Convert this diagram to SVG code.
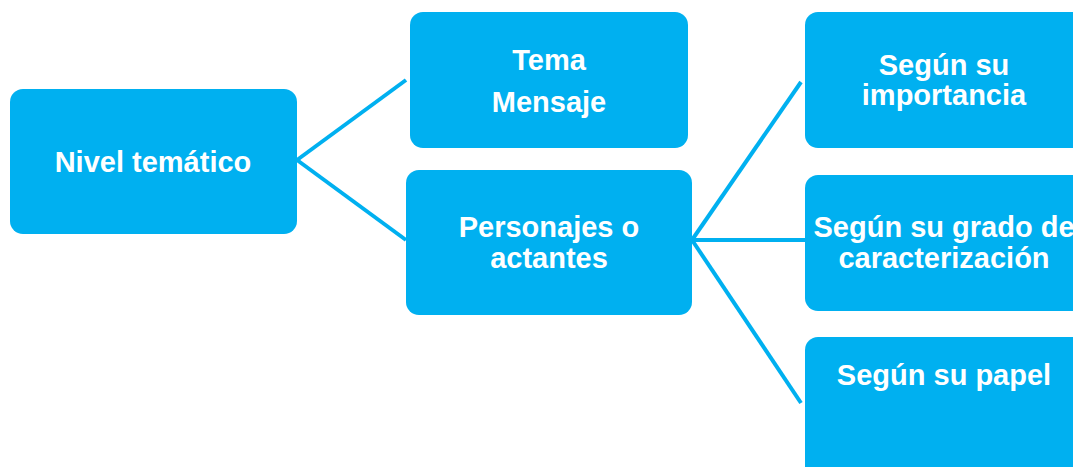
<svg xmlns="http://www.w3.org/2000/svg" width="1073" height="467" viewBox="0 0 1073 467">
<style>
.box{fill:#00B0F0;}
.t{font-family:"Liberation Sans",Arial,sans-serif;font-weight:bold;font-size:29px;fill:#ffffff;text-anchor:middle;}
.c{stroke:#00B0F0;stroke-width:4;fill:none;}
</style>
<rect width="1073" height="467" fill="#ffffff"/>
<g id="connectors">
<line class="c" x1="297" y1="160" x2="406" y2="80"/>
<line class="c" x1="297" y1="160" x2="406" y2="240"/>
<line class="c" x1="692" y1="240" x2="801" y2="82"/>
<line class="c" x1="692" y1="240" x2="805" y2="240"/>
<line class="c" x1="692" y1="240" x2="801" y2="403"/>
</g>
<g id="nivel">
<rect class="box" x="10" y="89" width="287" height="145" rx="13"/>
<text class="t" x="153" y="172">Nivel temático</text>
</g>
<g id="tema">
<rect class="box" x="410" y="12" width="278" height="136" rx="13"/>
<text class="t" x="549" y="70">Tema</text>
<text class="t" x="549" y="112">Mensaje</text>
</g>
<g id="personajes">
<rect class="box" x="406" y="170" width="286" height="145" rx="13"/>
<text class="t" x="549" y="237">Personajes o</text>
<text class="t" x="549" y="268">actantes</text>
</g>
<g id="importancia">
<rect class="box" x="805" y="12" width="290" height="136" rx="13"/>
<text class="t" x="944" y="75">Según su</text>
<text class="t" x="944" y="105">importancia</text>
</g>
<g id="grado">
<rect class="box" x="805" y="175" width="290" height="136" rx="13"/>
<text class="t" x="944" y="237">Según su grado de</text>
<text class="t" x="944" y="268">caracterización</text>
</g>
<g id="papel">
<rect class="box" x="805" y="337" width="290" height="150" rx="13"/>
<text class="t" x="944" y="385">Según su papel</text>
</g>
</svg>
